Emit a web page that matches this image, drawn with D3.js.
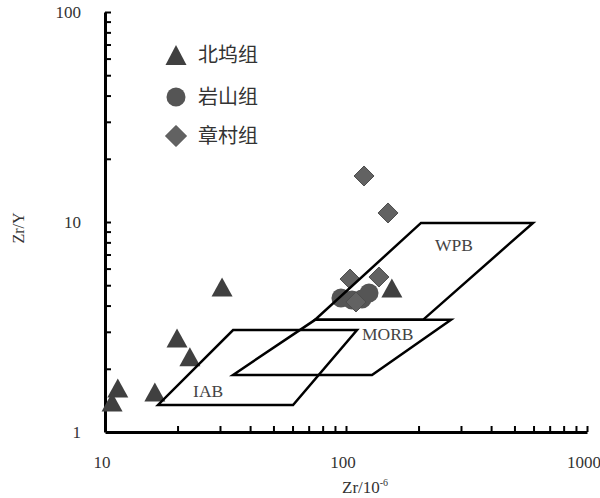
<!DOCTYPE html>
<html>
<head>
<meta charset="utf-8">
<script src="https://cdn.jsdelivr.net/npm/d3@7"></script>
<style>
html,body{margin:0;padding:0;background:#fff;}
svg{display:block;}
</style>
</head>
<body>
<svg id="chart" width="600" height="498"></svg>
<script>
// ---- data ----
const seriesNames = ["北坞组", "岩山组", "章村组"];
const beiwuZr = [30.6, 19.9, 22.5, 11.3, 10.7, 16.1, 155];
const beiwuRatio = [4.90, 2.80, 2.28, 1.62, 1.39, 1.55, 4.85];
const yanshanZr = [95.3, 105.9, 116.5, 124.6];
const yanshanRatio = [4.35, 4.25, 4.30, 4.59];
const zhangcunZr = [118.8, 149.4, 103.9, 137.0, 110.0];
const zhangcunRatio = [16.56, 11.04, 5.35, 5.47, 4.16];

const fieldNames = ["WPB", "MORB", "IAB"];
const wpbField = [[74.4, 3.42], [208.7, 3.42], [597, 9.9], [204.8, 9.9]];
const morbField = [[34.0, 1.87], [128.2, 1.87], [272.7, 3.42], [74.4, 3.42]];
const iabField = [[16.6, 1.345], [60.3, 1.345], [111.1, 3.06], [34.0, 3.06]];
const fieldLabelPos = [[234, 7.28], [116.5, 2.74], [23.2, 1.468]];

const xTickLabels = [10, 100, 1000];
const yTickLabels = [1, 10, 100];

// ---- drawing ----
const svg = d3.select("#chart");
const x = d3.scaleLog().domain([10, 1000]).range([105, 587]);
const y = d3.scaleLog().domain([1, 100]).range([432, 12]);

const serif = "'Liberation Serif','DejaVu Serif',serif";
const cjk = "'Noto Sans CJK SC','Noto Sans CJK JP',sans-serif";

// minor tick values
const xTicks = [];
for (let d = 10; d < 1000; d *= 10) for (let k = 1; k <= 10; k++) xTicks.push(d * k);
const yTicks = [];
for (let d = 1; d < 100; d *= 10) for (let k = 1; k <= 10; k++) yTicks.push(d * k);

const gx = svg.append("g").attr("transform", "translate(0,432)")
  .call(d3.axisBottom(x).tickValues(Array.from(new Set(xTicks)).filter(v => v > 10)).tickSize(-6).tickSizeOuter(0).tickFormat(""));
gx.select(".domain").attr("stroke", "#000").attr("stroke-width", 3);
gx.selectAll(".tick line").attr("stroke", "#000").attr("stroke-width", 2);

const gy = svg.append("g").attr("transform", "translate(105,0)")
  .call(d3.axisLeft(y).tickValues(Array.from(new Set(yTicks)).filter(v => v > 1)).tickSize(-6).tickSizeOuter(0).tickFormat(""));
gy.select(".domain").attr("stroke", "#000").attr("stroke-width", 3);
gy.selectAll(".tick line").attr("stroke", "#000").attr("stroke-width", 2);

// tick labels
svg.append("g").selectAll("text").data(xTickLabels).join("text")
  .attr("x", d => x(d) - 3).attr("y", 468)
  .attr("text-anchor", "middle")
  .attr("font-family", serif).attr("font-size", 17).attr("fill", "#333")
  .text(d => d);
svg.append("g").selectAll("text").data(yTickLabels).join("text")
  .attr("x", 81).attr("y", d => y(d) + 6)
  .attr("text-anchor", "end")
  .attr("font-family", serif).attr("font-size", 17).attr("fill", "#333")
  .text(d => d);

// axis titles
const xt = svg.append("text").attr("x", 342).attr("y", 493)
  .attr("font-family", serif).attr("font-size", 17).attr("fill", "#333");
xt.append("tspan").text("Zr/10");
xt.append("tspan").attr("dy", -7).attr("font-size", 10).text("-6");

svg.append("text").attr("transform", "translate(24,228) rotate(-90)")
  .attr("text-anchor", "middle")
  .attr("font-family", serif).attr("font-size", 16).attr("fill", "#333")
  .text("Zr/Y");

// points
function tri(w, h) { return `M0,${-h/2}L${w/2},${h/2}L${-w/2},${h/2}Z`; }
function dia(r) { return `M0,${-r}L${r},0L0,${r}L${-r},0Z`; }

const triPath = tri(21, 19);
const diaPath = dia(10);

const beiwu = beiwuZr.map((v, i) => [v, beiwuRatio[i]]);
const yanshan = yanshanZr.map((v, i) => [v, yanshanRatio[i]]);
const zhangcun = zhangcunZr.map((v, i) => [v, zhangcunRatio[i]]);

svg.append("g").selectAll("path").data(beiwu).join("path")
  .attr("d", triPath)
  .attr("transform", d => `translate(${x(d[0])},${y(d[1])})`)
  .attr("fill", "#404040");
svg.append("g").selectAll("circle").data(yanshan).join("circle")
  .attr("cx", d => x(d[0])).attr("cy", d => y(d[1])).attr("r", 9.5)
  .attr("fill", "#555555");
svg.append("g").selectAll("path").data(zhangcun).join("path")
  .attr("d", diaPath)
  .attr("transform", d => `translate(${x(d[0])},${y(d[1])})`)
  .attr("fill", "#626262").attr("stroke", "#4d4d4d").attr("stroke-width", 1);

// fields
const line = d3.line().x(d => x(d[0])).y(d => y(d[1]));
[wpbField, morbField, iabField].forEach(f => {
  svg.append("path").attr("d", line(f) + "Z")
    .attr("fill", "none").attr("stroke", "#000").attr("stroke-width", 2.5)
    .attr("stroke-linejoin", "miter");
});
svg.append("g").selectAll("text").data(fieldNames).join("text")
  .attr("x", (d, i) => x(fieldLabelPos[i][0])).attr("y", (d, i) => y(fieldLabelPos[i][1]))
  .attr("font-family", serif).attr("font-size", 17.5).attr("fill", "#444")
  .text(d => d);

// legend
const legendY = [55, 97, 136];
const lg = svg.append("g");
lg.append("path").attr("d", tri(21, 20)).attr("transform", `translate(176,${legendY[0]})`).attr("fill", "#404040");
lg.append("circle").attr("cx", 176).attr("cy", legendY[1]).attr("r", 9.5).attr("fill", "#555555");
lg.append("path").attr("d", dia(10.5)).attr("transform", `translate(176,${legendY[2]})`)
  .attr("fill", "#626262").attr("stroke", "#4d4d4d").attr("stroke-width", 1);
lg.selectAll("text").data(seriesNames).join("text")
  .attr("x", 198).attr("y", (d, i) => legendY[i] + 7)
  .attr("font-family", cjk).attr("font-size", 20).attr("fill", "#333")
  .text(d => d);
</script>
</body>
</html>
